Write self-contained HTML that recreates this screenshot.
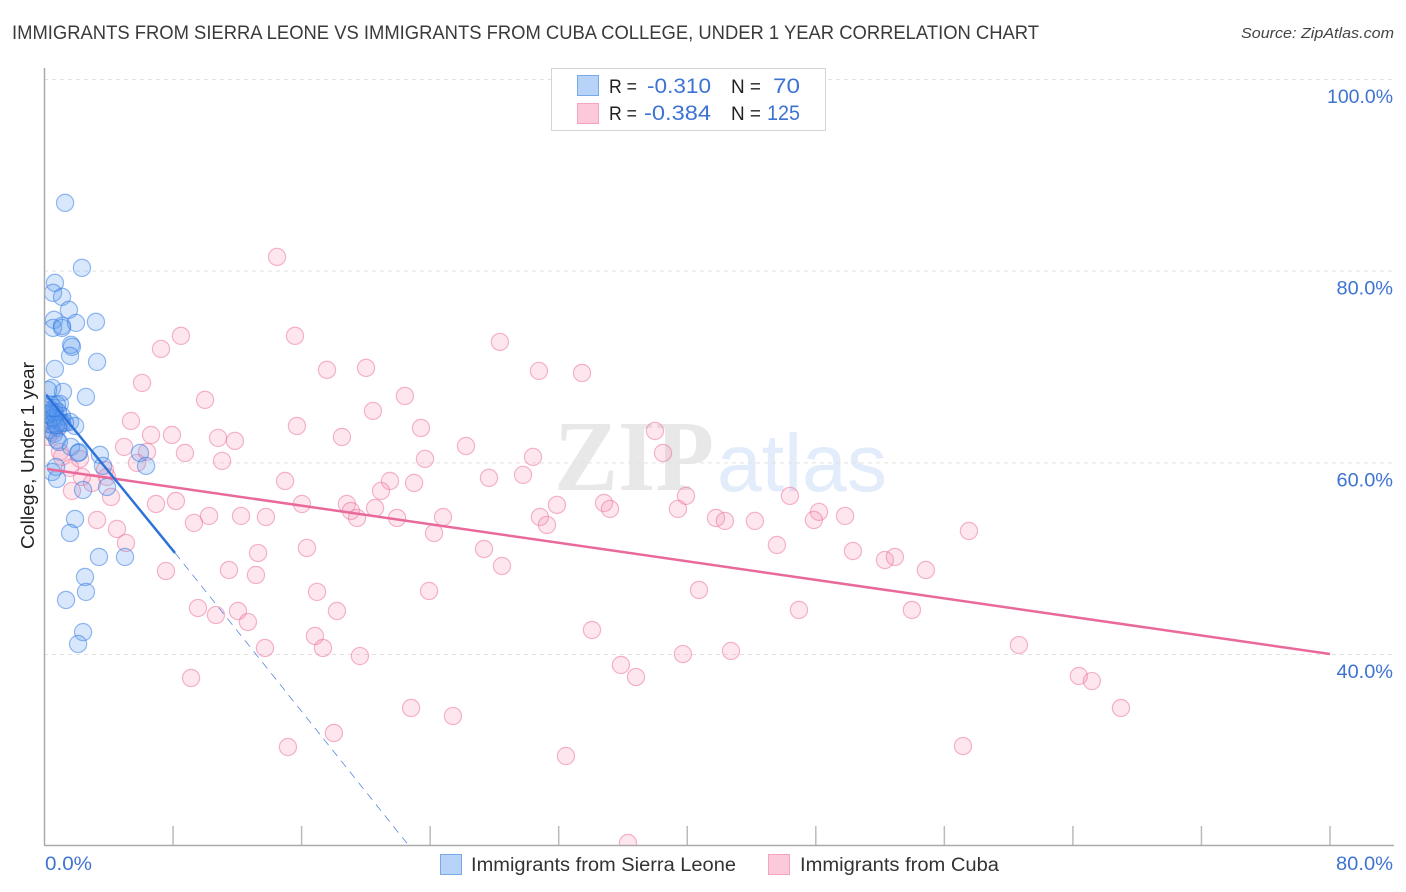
<!DOCTYPE html>
<html lang="en">
<head>
<meta charset="utf-8">
<title>Immigrants from Sierra Leone vs Immigrants from Cuba College, Under 1 Year Correlation Chart</title>
<style>
html,body{margin:0;padding:0;background:#fff;width:1406px;height:892px;overflow:hidden}
svg{display:block;font-family:"Liberation Sans",sans-serif}
</style>
</head>
<body>
<svg id="chart" xmlns="http://www.w3.org/2000/svg" width="1406" height="892" viewBox="0 0 1406 892">
  <defs>
    <clipPath id="plot-clip"><rect x="44" y="60" width="1350" height="785"></rect></clipPath>
  </defs>
  <rect x="0" y="0" width="1406" height="892" fill="#ffffff"></rect>
  <text x="12" y="39" font-size="19" fill="#3a3a3a" textLength="1027" lengthAdjust="spacingAndGlyphs">IMMIGRANTS FROM SIERRA LEONE VS IMMIGRANTS FROM CUBA COLLEGE, UNDER 1 YEAR CORRELATION CHART</text>
  <text x="1241" y="38" font-size="15" font-style="italic" fill="#444" textLength="153" lengthAdjust="spacingAndGlyphs">Source: ZipAtlas.com</text>

  <g>
    <text x="554" y="490" font-family="'Liberation Serif',serif" font-size="101" font-weight="bold" fill="#e8e8e8" textLength="160" lengthAdjust="spacingAndGlyphs">ZIP</text>
    <text x="717" y="491" font-size="82" fill="#e2ecfa" textLength="170" lengthAdjust="spacingAndGlyphs">atlas</text>
  </g>

  <g id="grid"></g>
  <g id="xticks"></g>
  <g id="ylabels"></g>
  <g id="points-cuba" clip-path="url(#plot-clip)"></g>
  <g id="points-leone" clip-path="url(#plot-clip)"></g>
  <g id="trends" clip-path="url(#plot-clip)"></g>

  <line x1="44.5" y1="68" x2="44.5" y2="845" stroke="#aaa" stroke-width="1.5"></line>
  <line x1="44" y1="845.5" x2="1394" y2="845.5" stroke="#aaa" stroke-width="1.5"></line>

  <text x="19" y="0" transform="translate(34,549) rotate(-90) translate(-19,0)" font-size="18" fill="#222" textLength="187" lengthAdjust="spacingAndGlyphs">College, Under 1 year</text>

  <text x="45" y="870" font-size="19" fill="#3f73d2" textLength="47" lengthAdjust="spacingAndGlyphs">0.0%</text>
  <text x="1336" y="870" font-size="19" fill="#3f73d2" textLength="57" lengthAdjust="spacingAndGlyphs">80.0%</text>

  <g>
    <rect x="551.5" y="68.5" width="274" height="62" fill="#fff" stroke="#d4d4d4" stroke-width="1"></rect>
    <rect x="577.5" y="75.5" width="21" height="20" fill="#b7d3f7" stroke="#7aa9e8"></rect>
    <rect x="577.5" y="103.5" width="21" height="20" fill="#fbc9da" stroke="#f3a4be"></rect>
    <text x="609" y="93" font-size="19" fill="#222" textLength="28" lengthAdjust="spacingAndGlyphs">R =</text>
    <text x="647" y="93" font-size="21.5" fill="#3f73d2" textLength="64" lengthAdjust="spacingAndGlyphs">-0.310</text>
    <text x="731" y="93" font-size="19" fill="#222" textLength="30" lengthAdjust="spacingAndGlyphs">N =</text>
    <text x="773" y="93" font-size="21.5" fill="#3f73d2" textLength="27" lengthAdjust="spacingAndGlyphs">70</text>
    <text x="609" y="120" font-size="19" fill="#222" textLength="28" lengthAdjust="spacingAndGlyphs">R =</text>
    <text x="644" y="120" font-size="21.5" fill="#3f73d2" textLength="67" lengthAdjust="spacingAndGlyphs">-0.384</text>
    <text x="731" y="120" font-size="19" fill="#222" textLength="30" lengthAdjust="spacingAndGlyphs">N =</text>
    <text x="767" y="120" font-size="21.5" fill="#3f73d2" textLength="33" lengthAdjust="spacingAndGlyphs">125</text>
  </g>

  <g>
    <g>
      <rect x="440.5" y="854.5" width="21" height="20" fill="#b7d3f7" stroke="#7aa9e8"></rect>
      <text x="471" y="871" font-size="19" fill="#333" textLength="265" lengthAdjust="spacingAndGlyphs">Immigrants from Sierra Leone</text>
    </g>
    <g>
      <rect x="768.5" y="854.5" width="21" height="20" fill="#fbc9da" stroke="#f3a4be"></rect>
      <text x="800" y="871" font-size="19" fill="#333" textLength="199" lengthAdjust="spacingAndGlyphs">Immigrants from Cuba</text>
    </g>
  </g>
</svg>
<script>
var yTickValues = [100, 80, 60, 40];
var yTickLabels = ["100.0%", "80.0%", "60.0%", "40.0%"];
var xTickValues = [8, 16, 24, 32, 40, 48, 56, 64, 72, 80];

var leoneX = [1.28,2.33,0.65,0.53,1.09,1.52,0.59,0.53,1.09,1.09,1.96,3.20,1.65,1.71,1.59,3.27,0.65,2.58,0.47,1.15,0.22,
  0.40,0.96,0.78,0.03,0.65,0.22,1.09,1.59,1.90,0.34,0.65,0.96,0.47,1.28,0.34,0.84,0.22,0.59,0.78,0.90,
  1.65,2.15,2.09,3.45,3.64,5.94,6.32,0.72,0.47,0.78,2.40,3.89,1.90,1.59,3.39,5.01,2.52,2.58,1.34,2.40,2.09,
  0.16,0.47,0.84,1.09,0.53,0.72,0.28,0.59];
var leoneY = [87.13,80.35,78.78,77.74,77.32,75.96,74.92,74.08,74.29,74.08,74.60,74.71,72.31,72.10,71.16,70.53,69.80,66.88,67.82,67.40,67.60,
  66.05,66.15,66.05,65.52,65.21,65.10,64.89,64.27,63.85,64.48,64.48,64.27,63.96,64.17,63.43,63.64,64.06,63.02,62.39,62.18,
  61.66,61.11,61.03,60.83,59.68,61.03,59.68,59.57,59.05,58.32,57.17,57.48,54.14,52.68,50.18,50.18,48.09,46.53,45.69,42.34,41.10,
  65.00,65.31,65.31,64.17,64.69,63.96,65.73,65.73];

var cubaX = [14.47,8.49,7.25,15.59,28.34,17.58,20.01,30.77,33.45,6.07,9.99,22.43,20.44,5.38,15.71,23.43,6.63,7.93,10.80,11.85,18.51,26.23,37.99,38.49,4.95,6.38,8.74,5.76,11.05,23.68,30.40,29.78,27.66,14.97,21.50,23.00,20.94,39.92,46.39,34.82,35.19,31.89,39.42,48.20,49.82,47.88,41.79,42.34,44.21,18.82,19.07,19.45,20.57,21.94,24.80,24.24,30.83,31.27,8.18,6.94,16.02,10.24,9.30,12.23,13.78,3.27,4.51,5.07,57.53,45.58,50.31,52.30,52.92,54.85,16.33,13.29,27.35,28.47,7.56,11.48,13.16,23.93,16.96,40.73,46.95,53.98,9.55,10.67,12.04,12.66,18.20,34.07,16.83,17.33,19.63,13.72,39.73,42.72,35.87,36.81,60.64,64.37,65.18,66.99,9.12,22.81,25.42,18.01,15.15,32.45,57.16,36.31,
  1.09,1.59,2.33,2.96,3.89,1.71,4.14,0.96,2.21,3.76,0.47,0.84,0.22];
var cubaY = [81.49,73.25,71.89,73.25,72.62,69.70,69.91,69.59,69.38,68.34,66.57,66.98,65.42,64.37,63.85,63.64,62.91,62.91,62.60,62.29,62.70,61.76,63.33,61.03,61.66,61.14,61.03,59.99,60.20,60.41,60.62,58.74,58.43,58.11,58.11,57.90,57.07,56.55,56.55,55.81,55.19,55.61,55.19,54.88,54.46,54.04,54.25,53.94,53.94,55.71,54.98,54.25,55.29,54.25,54.35,52.68,54.35,53.52,56.02,55.71,55.71,54.46,53.73,54.46,54.35,54.04,53.10,51.64,52.89,51.43,50.80,49.86,50.18,48.82,51.12,50.59,51.01,49.24,48.71,48.82,48.30,46.63,46.53,46.73,44.65,44.65,44.85,44.12,44.54,43.39,44.54,42.56,41.93,40.68,39.84,40.68,40.05,40.37,38.91,37.65,40.99,37.76,37.23,34.42,37.55,34.42,33.58,31.81,30.35,29.41,30.45,20.33,
  60.62,59.47,58.53,57.90,58.53,57.07,56.44,61.14,60.41,59.26,63.23,63.85,62.70];

var leoneTrendSolidX = [0.1, 8.12];
var leoneTrendSolidY = [67.09, 50.60];
var leoneTrendDashX = [8.12, 22.56];
var leoneTrendDashY = [50.60, 20.30];
var cubaTrendX = [0.16, 80];
var cubaTrendY = [59.36, 40.05];

function xScale(v) { return 44.5 + v * (1330 - 44.5) / 80; }
function yScale(v) { return 654.5 - (v - 40) * (654.5 - 79.5) / 60; }

var NS = 'http://www.w3.org/2000/svg';
function make(tag, attrs, parent) {
  var el = document.createElementNS(NS, tag);
  for (var k in attrs) { el.setAttribute(k, attrs[k]); }
  parent.appendChild(el);
  return el;
}

var gridG = document.getElementById('grid');
var yLabelG = document.getElementById('ylabels');
yTickValues.forEach(function (v, i) {
  var g = make('line', {x1: 44, x2: 1394, y1: yScale(v), y2: yScale(v), stroke: '#e2e2e2', 'stroke-width': 1, 'stroke-dasharray': '4 4'}, gridG);
  
  
  var w = yTickLabels[i].length * 9.5 + 9;
  var t = make('text', {x: 1393 - w, y: yScale(v) + 23.5, 'font-size': 19, fill: '#3f73d2', textLength: w, lengthAdjust: 'spacingAndGlyphs'}, yLabelG);
  t.textContent = yTickLabels[i];
  
  
});

var xTickG = document.getElementById('xticks');
xTickValues.forEach(function (v) {
  var l = make('line', {x1: xScale(v), x2: xScale(v), y1: 826, y2: 845, stroke: '#bbb', 'stroke-width': 1.5}, xTickG);
  
  
});

function drawPoints(groupId, xs, ys, fill, stroke, name) {
  var g = document.getElementById(groupId);
  xs.forEach(function (x, i) {
    var c = make('circle', {cx: xScale(x), cy: yScale(ys[i]), r: 8.6, fill: fill, stroke: stroke, 'stroke-width': 1.2}, g);
    
    
  });
}
drawPoints('points-cuba', cubaX, cubaY, 'rgba(244,140,175,0.22)', 'rgba(236,110,155,0.5)', 'cuba-point');
drawPoints('points-leone', leoneX, leoneY, 'rgba(90,155,240,0.24)', 'rgba(45,120,225,0.5)', 'sierra-leone-point');

var trendG = document.getElementById('trends');
var dashLine = make('line', {x1: xScale(leoneTrendDashX[0]), y1: yScale(leoneTrendDashY[0]), x2: xScale(leoneTrendDashX[1]), y2: yScale(leoneTrendDashY[1]), stroke: '#5a8ae0', 'stroke-width': 0.8, 'stroke-dasharray': '8 6'}, trendG);


var cubaLine = make('line', {x1: xScale(cubaTrendX[0]), y1: yScale(cubaTrendY[0]), x2: xScale(cubaTrendX[1]), y2: yScale(cubaTrendY[1]), stroke: '#e8699a', 'stroke-width': 2.5}, trendG);


var leoneLine = make('line', {x1: xScale(leoneTrendSolidX[0]), y1: yScale(leoneTrendSolidY[0]), x2: xScale(leoneTrendSolidX[1]), y2: yScale(leoneTrendSolidY[1]), stroke: '#2d72d9', 'stroke-width': 2.5}, trendG);


</script>
</body>
</html>
